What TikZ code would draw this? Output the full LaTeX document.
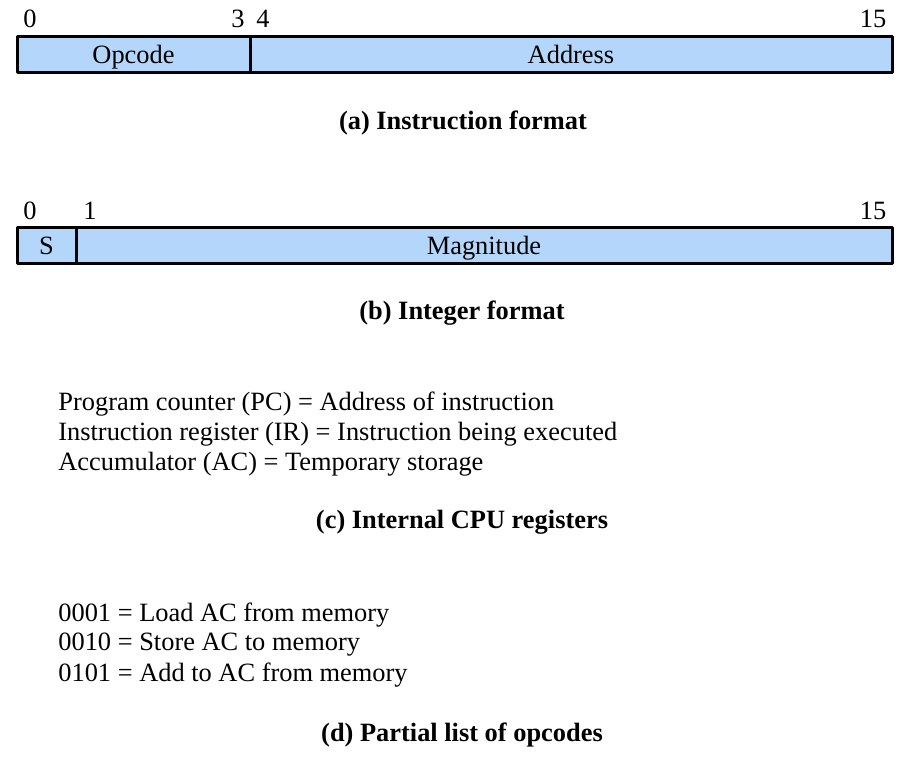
\documentclass[tikz,border=0pt]{standalone}
\usepackage{fontspec}
\setmainfont{Liberation Serif}
\definecolor{fieldblue}{RGB}{179,214,250}
\begin{document}
\begin{tikzpicture}[x=0.5pt,y=-0.5pt,line join=round,
    field/.style={draw,line width=1.5pt,fill=fieldblue,inner sep=0pt,outer sep=0pt,
      minimum height=18pt,text height=10.5pt,text depth=1.5pt,anchor=north west,
      font=\fontsize{13.2}{15}\selectfont},
    txt/.style={font=\fontsize{13.2}{15}\selectfont,inner sep=0pt},
    caption/.style={font=\fontsize{13.2}{15}\selectfont\bfseries,inner sep=0pt}]
  \useasboundingbox (0,0) rectangle (912,758);
  % (a) instruction format
  \node[field,minimum width=116.5pt] (opcode) at (17,37) {Opcode};
  \node[field,minimum width=321pt] (address) at (opcode.north east) {Address};
  \foreach \x/\t in {30/0,238/3,263/4,873/15}{
    \node[txt] (a\t) at (\x,19) {\t};
  }
  \node[caption] (capa) at (463,123) {(a) Instruction format};
  % (b) integer format
  \node[field,minimum width=29.5pt] (sign) at (17,228) {S};
  \node[field,minimum width=408pt] (magnitude) at (sign.north east) {Magnitude};
  \foreach \x/\t in {30/0,90/1,873/15}{
    \node[txt] (b\t) at (\x,211) {\t};
  }
  \node[caption] (capb) at (462,313) {(b) Integer format};
  % (c) registers
  \foreach \y/\n/\t in {404/1/{Program counter (PC) = Address of instruction},
    434/2/{Instruction register (IR) = Instruction being executed},
    464/3/{Accumulator (AC) = Temporary storage}}{
    \node[txt,anchor=west] (c\n) at (58,\y) {\t};
  }
  \node[caption] (capc) at (462,522) {(c) Internal CPU registers};
  % (d) opcodes
  \foreach \y/\n/\t in {615/1/{0001 = Load AC from memory},
    645/2/{0010 = Store AC to memory},
    675/3/{0101 = Add to AC from memory}}{
    \node[txt,anchor=west] (d\n) at (58,\y) {\t};
  }
  \node[caption] (capd) at (462,735) {(d) Partial list of opcodes};
\end{tikzpicture}
\end{document}
